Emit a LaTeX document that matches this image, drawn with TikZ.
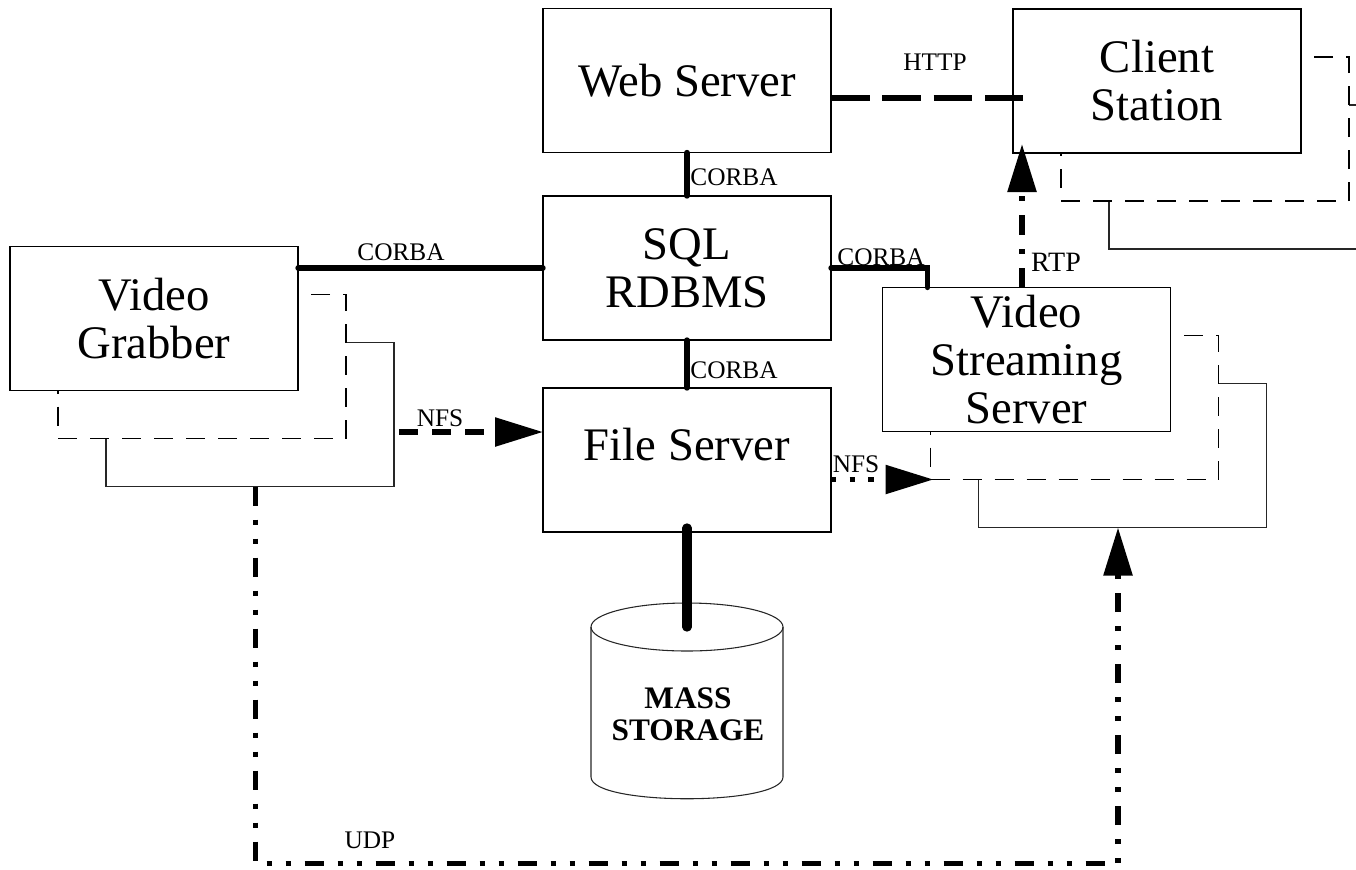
\documentclass[tikz,border=0pt]{standalone}
\usepackage{fontspec}
\setmainfont{Liberation Serif}
\usetikzlibrary{arrows.meta,calc}
\begin{document}
\begin{tikzpicture}[x=0.75pt,y=-0.75pt,
  box/.style={draw,line width=1.1pt,fill=white,minimum width=216pt,minimum height=108pt,inner sep=0pt,outer sep=0pt,align=center,font=\fontsize{35}{36}\selectfont},
  shdash/.style={draw,line width=0.8pt,dash pattern=on 14.25pt off 9.75pt,fill=white,minimum width=216pt,minimum height=108pt,inner sep=0pt,outer sep=0pt},
  shsolid/.style={draw=black!85,line width=0.8pt,minimum width=216pt,minimum height=108pt,inner sep=0pt,outer sep=0pt},
  lbl/.style={font=\fontsize{19}{20}\selectfont,inner sep=0pt},
  corba/.style={line width=4pt,line cap=round},
  http/.style={line width=4.5pt,dash pattern=on 29pt off 9.5pt},
  nfsdash/.style={line width=4.2pt,dash pattern=on 14.25pt off 10.5pt},
  nfsdot/.style={line width=4.2pt,dash pattern=on 4pt off 10pt},
  rtp/.style={line width=4.2pt,dash pattern=on 15pt off 10.5pt on 3.75pt off 10.5pt},
  udp/.style={line width=4.2pt,dash pattern=on 14.25pt off 10.5pt on 3.75pt off 10.5pt on 3.75pt off 10.5pt},
  bigtip/.style={-{Triangle[length=36pt,width=21pt]}}
]
\useasboundingbox (0,0) rectangle (1356,869);
\clip (0,0) rectangle (1356,869);

% shadows and boxes
\node[shsolid] (vgs2) at (250,414.5) {};
\node[shdash]  (vgs1) at (202,366.5) {};
\node[box] (vg) at (154,318.5) {Video\\Grabber};

\node[shsolid] (css2) at (1253,177) {};
\node[shdash]  (css1) at (1205,129) {};
\node[box] (cs) at (1157,81) {Client\\Station};

\node[shsolid] (vss2) at (1122.5,455.5) {};
\node[shdash]  (vss1) at (1074.5,407.5) {};
\node[box] (vss) at (1026.5,359.5) {Video\\Streaming\\Server};

\node[box] (ws) at (687,80.5) {Web Server};
\node[box] (sql) at (687,268) {SQL\\RDBMS};
\node[box] (fs) at (687,460) {};
\node[font=\fontsize{35}{36}\selectfont,inner sep=0pt] (fstext) at (687,445) {File Server};

% mass storage
\draw[line width=0.8pt,black!85] (687,627) ellipse [x radius=72pt, y radius=18pt];
\draw[line width=0.8pt,black!85] (591,627) -- (591,777) .. controls (591,806) and (783,806) .. (783,777) -- (783,627);
\node[font=\bfseries\fontsize{23.5}{24}\selectfont,align=center,inner sep=0pt] (ms) at (688,714) {MASS\\STORAGE};
\coordinate (mstop) at (687,627);

% connectors
\draw[corba] (ws.south) -- (sql.north);
\draw[corba] (sql.south) -- (fs.north);
\draw[corba] (vg.east |- sql.west) -- (sql.west);
\draw[corba] (sql.east) -| ($(vss.north west)+(45,0)$);
\draw[line width=7pt,line cap=round] ($(fs.south)+(0,-4)$) -- (mstop);

\draw[http] ($(ws.east)+(0,17.5)$) -- ($(cs.west)+(10,17)$);

\coordinate (rtpA) at ($(vss.north west)+(139.5,0)$);
\draw[rtp,bigtip] (rtpA) -- ($(rtpA |- cs.south)+(0,-9)$);

\coordinate (nfsB) at ($(fs.west)+(0,-28)$);
\draw[nfsdash,bigtip] (vgs2.east |- nfsB) ++(5,0) -- (nfsB);

\draw[nfsdot,bigtip] (fs.east |- vss1.south west) -- ($(vss1.south west)+(3,0)$);

\coordinate (udpA) at ($(vgs2.south)+(5.5,0)$);
\coordinate (udpB) at ($(vss2.south)+(-4.5,0)$);
\draw[udp,bigtip] (udpA) -- ++(0,377) -| (udpB);

% labels
\node[lbl] (l1) at (401,252) {CORBA};
\node[lbl] (l2) at (734,177) {CORBA};
\node[lbl] (l3) at (734,370) {CORBA};
\node[lbl] (l4) at (881,257) {CORBA};
\node[lbl] (l5) at (935,62) {HTTP};
\node[lbl,font=\fontsize{21}{22}\selectfont] (l6) at (1056,262) {RTP};
\node[lbl] (l7) at (440,418) {NFS};
\node[lbl] (l8) at (856,464) {NFS};
\node[lbl] (l9) at (370,840) {UDP};
\end{tikzpicture}
\end{document}
